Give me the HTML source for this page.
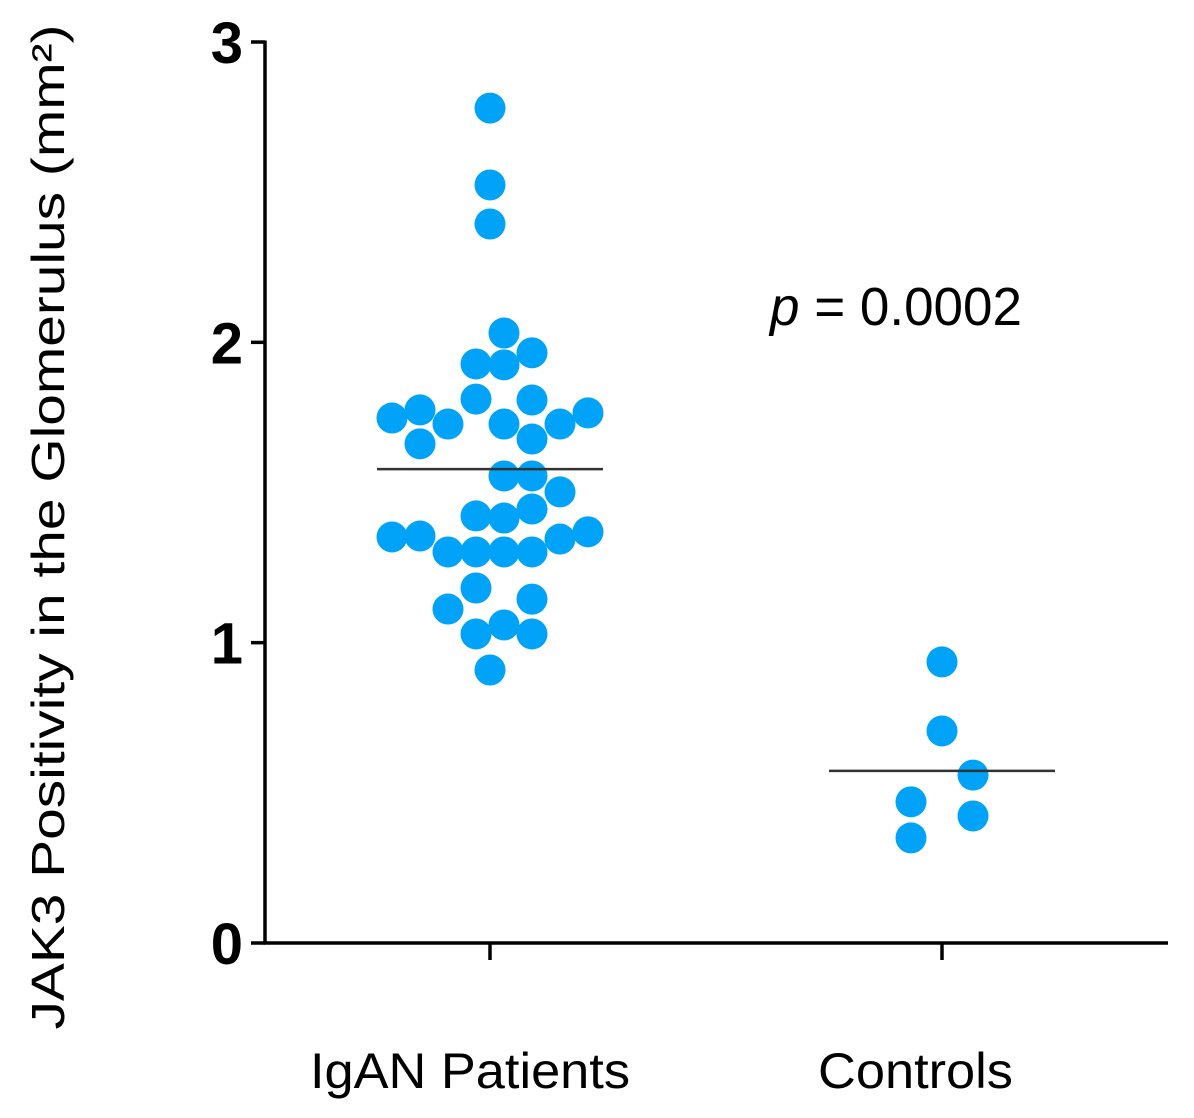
<!DOCTYPE html>
<html><head><meta charset="utf-8"><style>
html,body{margin:0;padding:0;background:#fff;width:1194px;height:1118px;overflow:hidden}
svg{display:block}
text{font-family:"Liberation Sans",Arial,sans-serif;fill:#000}
</style></head><body>
<svg id="chart" width="1194" height="1118" viewBox="0 0 1194 1118">
<g id="axes"></g>
<g id="marks"></g>
<text transform="translate(64,527) rotate(-90)" text-anchor="middle" font-size="46" textLength="1005" lengthAdjust="spacingAndGlyphs">JAK3 Positivity in the Glomerulus (mm²)</text>
<text x="770" y="325" font-size="54" textLength="252" lengthAdjust="spacingAndGlyphs"><tspan font-style="italic">p</tspan> = 0.0002</text>
</svg>
<script>
const categories = ["IgAN Patients", "Controls"];
const yTicks = [0, 1, 2, 3];
const igan = [2.780,2.524,2.394,2.031,1.928,1.925,1.965,1.811,1.808,1.748,1.775,1.728,1.728,1.728,1.765,1.662,1.678,1.555,1.555,1.502,1.422,1.415,1.445,1.352,1.355,1.302,1.302,1.302,1.302,1.345,1.369,1.182,1.112,1.145,1.029,1.029,1.059,0.909];
const iganSlots = [0,0,0,1,-1,1,3,-1,3,-7,-5,-3,1,5,7,-5,3,1,3,5,-1,1,3,-7,-5,-3,-1,1,3,5,7,-1,-3,3,-1,3,1,0];
const controls = [0.936,0.706,0.559,0.470,0.423,0.350];
const controlSlots = [0,0,2,-2,2,-2];
const means = [1.578, 0.573];

const NS = "http://www.w3.org/2000/svg";
const y0 = 943, y3 = 42, axisX = 265, axisRight = 1168;
const yScale = v => y0 + (y3 - y0) * v / 3;
const xCenters = [490, 942];
const labelStart = [310, 818];
const labelWidth = [320, 195];
const slotW = [14, 15.5];
const meanHalf = [113, 113];

function mk(tag, attrs, parent){const e=document.createElementNS(NS,tag);for(const k in attrs)e.setAttribute(k,attrs[k]);parent.appendChild(e);return e;}
const axes = document.getElementById('axes');
const marks = document.getElementById('marks');

let el = mk('line',{x1:axisX,y1:y3-1.5,x2:axisX,y2:y0+1.5,stroke:'#000','stroke-width':3.5},axes);


el = mk('line',{x1:axisX-1.5,y1:y0,x2:axisRight,y2:y0,stroke:'#000','stroke-width':3.5},axes);



yTicks.forEach(t=>{
  const y = yScale(t);
  const l = mk('line',{x1:251,y1:y,x2:axisX,y2:y,stroke:'#000','stroke-width':3.5},axes);
  
  
  const tx = mk('text',{x:243,y:y+21,'text-anchor':'end','font-size':58,'font-weight':'bold'},axes);
  tx.textContent = t;
  
  
});

categories.forEach((c,i)=>{
  const x = xCenters[i];
  const l = mk('line',{x1:x,y1:y0,x2:x,y2:960,stroke:'#000','stroke-width':3.5},axes);
  
  
  const tx = mk('text',{x:labelStart[i],y:1088,'font-size':50,textLength:labelWidth[i],lengthAdjust:'spacingAndGlyphs'},axes);
  tx.textContent = c;
  
  
});

function drawGroup(vals, slots, gi){
  vals.forEach((v,i)=>{
    const c = mk('circle',{cx:xCenters[gi]+slots[i]*slotW[gi],cy:yScale(v),r:15.5,fill:'#00a3f7'},marks);
    
    
  });
}
drawGroup(igan, iganSlots, 0);
drawGroup(controls, controlSlots, 1);

means.forEach((m,i)=>{
  const y = yScale(m);
  const l = mk('line',{x1:xCenters[i]-meanHalf[i],y1:y,x2:xCenters[i]+meanHalf[i],y2:y,stroke:'#333','stroke-width':2.5},marks);
  
  
});
</script>
</body></html>
